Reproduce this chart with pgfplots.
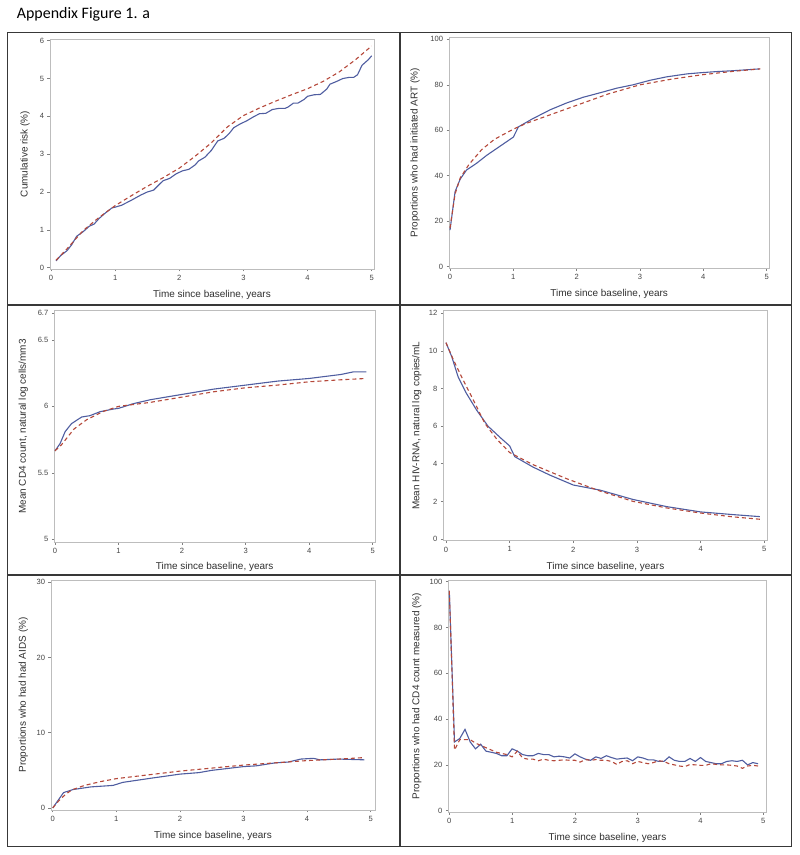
\documentclass[border=0pt]{standalone}
\usepackage{pgfplots}
\pgfplotsset{compat=1.18}
\usepackage{fontspec}
\setmainfont{Liberation Sans}
\newfontfamily\titlefont{Carlito}
\definecolor{bl}{HTML}{4F5DA0}
\definecolor{rd}{HTML}{B5483A}
\definecolor{framegray}{HTML}{BDBDBD}
\definecolor{ticklab}{HTML}{444444}
\definecolor{lab}{HTML}{303030}
\pgfplotsset{
  panel/.style={
    scale only axis,
    axis line style={draw=framegray, line width=0.8bp},
    tick align=outside,
    xtick pos=bottom, ytick pos=left,
    major tick length=2.5bp,
    tick style={draw=gray, line width=0.6bp},
    /pgf/number format/assume math mode=true,
    ticklabel style={font=\fontsize{7.6}{9}\selectfont, text=ticklab},
    label style={font=\fontsize{10}{12}\selectfont, text=lab},
    xlabel={Time since baseline, years},
    xtick={0,1,2,3,4,5},
    clip=true,
  },
  bl/.style={draw=bl, line width=1.1bp, mark=none},
  rd/.style={draw=rd, line width=1.1bp, mark=none, dash pattern=on 4bp off 3bp},
}
\begin{document}
\begin{tikzpicture}
\path (0,0) rectangle (800bp,855bp);
\node[anchor=base west, inner sep=0pt, font=\titlefont\fontsize{16}{19}\selectfont] at (16.7bp,836bp) {Appendix Figure 1. a};
% frames
\begin{scope}[draw=black!78, line width=1.3bp]
\draw (7.3bp,822.7bp) -- (791.7bp,822.7bp);
\draw (7.3bp,550bp) -- (791.7bp,550bp);
\draw (7.3bp,280bp) -- (791.7bp,280bp);
\draw (7.3bp,8.3bp) -- (791.7bp,8.3bp);
\draw (7.3bp,8.3bp) -- (7.3bp,822.7bp);
\draw (400bp,8.3bp) -- (400bp,822.7bp);
\draw (791.7bp,8.3bp) -- (791.7bp,822.7bp);
\end{scope}

% Panel 1
\begin{axis}[panel, at={(50bp,586bp)}, anchor=south west, width=324bp, height=230bp,
  xmin=-0.0156, xmax=5.037, ymin=-0.034, ymax=6.045, ytick={0,1,2,3,4,5,6},
  ylabel={Cumulative risk (\%)},
  xlabel style={at={(axis description cs:0.5,-0.113)}, anchor=center},
  ylabel style={at={(axis description cs:-0.0772,0.5)}, anchor=center}]
\addplot[bl] coordinates {(0.08,0.18)(0.15,0.32)(0.25,0.45)(0.32,0.6)(0.4,0.83)(0.5,0.95)(0.6,1.1)(0.67,1.15)(0.75,1.3)(0.85,1.45)(0.95,1.58)(1.0,1.6)(1.1,1.65)(1.25,1.78)(1.4,1.92)(1.5,2.0)(1.6,2.05)(1.7,2.22)(1.75,2.3)(1.85,2.36)(1.95,2.48)(2.05,2.56)(2.15,2.6)(2.25,2.72)(2.3,2.82)(2.4,2.92)(2.5,3.1)(2.6,3.35)(2.7,3.42)(2.78,3.55)(2.85,3.7)(2.95,3.8)(3.05,3.88)(3.15,3.98)(3.25,4.07)(3.35,4.08)(3.45,4.18)(3.55,4.21)(3.65,4.21)(3.7,4.25)(3.78,4.35)(3.85,4.35)(3.95,4.45)(4.0,4.53)(4.1,4.57)(4.2,4.58)(4.3,4.72)(4.35,4.85)(4.45,4.92)(4.55,5.0)(4.65,5.03)(4.72,5.03)(4.78,5.1)(4.85,5.35)(4.95,5.5)(5.0,5.6)};
\addplot[rd] coordinates {(0.08,0.2)(0.25,0.5)(0.5,0.98)(0.75,1.33)(1.0,1.64)(1.25,1.9)(1.5,2.15)(1.75,2.38)(2.0,2.63)(2.25,2.95)(2.5,3.3)(2.75,3.72)(3.0,4.02)(3.25,4.22)(3.5,4.4)(3.75,4.57)(4.0,4.73)(4.25,4.93)(4.5,5.18)(4.75,5.5)(5.0,5.86)};
\end{axis}

% Panel 2
\begin{axis}[panel, at={(449bp,586.7bp)}, anchor=south west, width=320.3bp, height=231bp,
  xmin=-0.016, xmax=5.042, ymin=-0.7, ymax=100.9, ytick={0,20,40,60,80,100},
  ylabel={Proportions who had initiated ART (\%)},
  xlabel style={at={(axis description cs:0.5,-0.1126)}, anchor=center},
  ylabel style={at={(axis description cs:-0.106,0.5)}, anchor=center}]
\addplot[bl] coordinates {(0,16.1)(0.08,33)(0.16,38.5)(0.26,42.5)(0.42,45.5)(0.58,49)(0.79,53)(1.0,57)(1.08,61.5)(1.3,65)(1.58,69)(1.84,72)(2.1,74.5)(2.37,76.5)(2.63,78.5)(2.89,80)(3.16,82)(3.42,83.5)(3.74,84.8)(3.95,85.3)(4.2,85.8)(4.47,86.2)(4.89,87)};
\addplot[rd] coordinates {(0,17)(0.08,32)(0.16,39)(0.3,45)(0.5,51.5)(0.7,56)(1.0,60.5)(1.2,63)(1.5,66)(2.0,71)(2.5,76)(3.0,80)(3.5,82.5)(4.0,84.5)(4.5,86)(4.9,87)};
\end{axis}

% Panel 3
\begin{axis}[panel, at={(54.3bp,312.7bp)}, anchor=south west, width=320.7bp, height=231.6bp,
  xmin=-0.011, xmax=5.036, ymin=4.977, ymax=6.72, ytick={5,5.5,6,6.5,6.7},
  yticklabels={5,5.5,6,6.5,6.7},
  ylabel={Mean CD4 count, natural log cells/mm3},
  xlabel style={at={(axis description cs:0.5,-0.105)}, anchor=center},
  ylabel style={at={(axis description cs:-0.0967,0.5)}, anchor=center}]
\addplot[bl] coordinates {(0,5.665)(0.08,5.72)(0.16,5.81)(0.26,5.87)(0.42,5.92)(0.55,5.93)(0.71,5.96)(0.92,5.98)(1.0,5.985)(1.23,6.02)(1.5,6.05)(2.0,6.09)(2.5,6.13)(3.0,6.16)(3.5,6.19)(4.0,6.21)(4.5,6.24)(4.7,6.26)(4.9,6.26)};
\addplot[rd] coordinates {(0,5.665)(0.1,5.71)(0.2,5.77)(0.3,5.83)(0.5,5.9)(0.75,5.96)(1.0,6.0)(1.5,6.03)(2.0,6.07)(2.5,6.11)(3.0,6.14)(3.5,6.16)(4.0,6.185)(4.5,6.2)(4.9,6.21)};
\end{axis}

% Panel 4
\begin{axis}[panel, at={(443.3bp,314.3bp)}, anchor=south west, width=324.4bp, height=230bp,
  xmin=-0.042, xmax=5.053, ymin=-0.09, ymax=12.14, ytick={0,2,4,6,8,10,12},
  ylabel={Mean HIV-RNA, natural log copies/mL},
  xlabel style={at={(axis description cs:0.5,-0.113)}, anchor=center},
  ylabel style={at={(axis description cs:-0.082,0.5)}, anchor=center}]
\addplot[bl] coordinates {(0,10.44)(0.09,9.7)(0.19,8.63)(0.32,7.75)(0.48,6.86)(0.66,6.0)(0.85,5.4)(1.0,4.95)(1.08,4.38)(1.37,3.82)(1.63,3.4)(2.0,2.87)(2.42,2.6)(2.94,2.1)(3.47,1.72)(4.0,1.44)(4.5,1.3)(4.93,1.19)};
\addplot[rd] coordinates {(0,10.44)(0.12,9.5)(0.27,8.45)(0.43,7.39)(0.61,6.15)(0.8,5.3)(1.0,4.6)(1.37,3.95)(1.9,3.2)(2.42,2.55)(2.94,2.0)(3.47,1.65)(4.0,1.38)(4.5,1.18)(4.93,1.05)};
\end{axis}

% Panel 5
\begin{axis}[panel, at={(51bp,45bp)}, anchor=south west, width=324bp, height=230bp,
  xmin=-0.027, xmax=5.068, ymin=-0.27, ymax=30.31, ytick={0,10,20,30},
  ylabel={Proportions who had had AIDS (\%)},
  xlabel style={at={(axis description cs:0.5,-0.112)}, anchor=center},
  ylabel style={at={(axis description cs:-0.0855,0.5)}, anchor=center}]
\addplot[bl] coordinates {(0,0)(0.17,2.04)(0.32,2.45)(0.6,2.8)(0.95,3.0)(1.1,3.4)(1.5,3.9)(2.0,4.5)(2.3,4.7)(2.5,5.0)(3.0,5.5)(3.2,5.6)(3.5,6.0)(3.7,6.1)(3.9,6.5)(4.1,6.6)(4.2,6.4)(4.5,6.5)(4.9,6.4)};
\addplot[rd] coordinates {(0,0)(0.1,1.0)(0.2,1.8)(0.3,2.4)(0.5,3.0)(0.75,3.5)(1.0,3.9)(1.5,4.4)(2.0,4.9)(2.5,5.3)(3.0,5.7)(3.5,6.0)(4.0,6.3)(4.5,6.5)(4.9,6.7)};
\end{axis}

% Panel 6
\begin{axis}[panel, at={(448.3bp,42.7bp)}, anchor=south west, width=318.4bp, height=232.3bp,
  xmin=-0.016, xmax=5.054, ymin=-0.7, ymax=100.7, ytick={0,20,40,60,80,100},
  ylabel={Proportions who had CD4 count measured (\%)},
  xlabel style={at={(axis description cs:0.5,-0.112)}, anchor=center},
  ylabel style={at={(axis description cs:-0.0992,0.5)}, anchor=center}]
\addplot[bl] coordinates {(0,96)(0.083,30)(0.167,31.5)(0.25,35.5)(0.333,30)(0.417,27)(0.5,29)(0.583,26)(0.667,25.5)(0.75,25)(0.833,24)(0.917,24)(1.0,27)(1.083,26)(1.167,24.5)(1.25,24)(1.333,24)(1.417,25)(1.5,24.5)(1.583,24.5)(1.667,23.5)(1.75,23.8)(1.833,23.5)(1.917,23)(2.0,24.8)(2.083,23.5)(2.167,22.5)(2.25,22)(2.333,23.5)(2.417,22.8)(2.5,24)(2.583,23.2)(2.667,22.5)(2.75,22.8)(2.833,23)(2.917,21.8)(3.0,23.5)(3.083,23)(3.167,22.2)(3.25,22.2)(3.333,21.5)(3.417,21.5)(3.5,23.5)(3.583,22)(3.667,21.5)(3.75,21.5)(3.833,22.8)(3.917,21.5)(4.0,23.2)(4.083,21.5)(4.167,21)(4.25,20.5)(4.333,20.5)(4.417,21.5)(4.5,21.8)(4.583,21.5)(4.667,22)(4.75,20)(4.833,21)(4.917,20.5)};
\addplot[rd] coordinates {(0,96)(0.083,26.5)(0.167,31)(0.25,31)(0.333,31)(0.417,29.5)(0.5,28.5)(0.583,27.5)(0.667,26.5)(0.75,25.5)(0.833,25)(0.917,24.5)(1.0,23.5)(1.083,26)(1.167,23)(1.25,22.5)(1.333,22.5)(1.417,21.8)(1.5,22.5)(1.583,22)(1.667,21.8)(1.75,22)(1.833,22.2)(1.917,22)(2.0,22)(2.083,21.2)(2.167,22.3)(2.25,22)(2.333,22.3)(2.417,22)(2.5,22)(2.583,21.5)(2.667,20.2)(2.75,21.5)(2.833,21.8)(2.917,20.5)(3.0,21.5)(3.083,21)(3.167,20.5)(3.25,21)(3.333,21.8)(3.417,21.5)(3.5,20.5)(3.583,20)(3.667,19.5)(3.75,19.2)(3.833,20.2)(3.917,20)(4.0,19.8)(4.083,19.8)(4.167,20.5)(4.25,20.2)(4.333,20)(4.417,20)(4.5,19.8)(4.583,19.5)(4.667,18.5)(4.75,19.5)(4.833,19.8)(4.917,19.5)};
\end{axis}
\end{tikzpicture}
\end{document}
